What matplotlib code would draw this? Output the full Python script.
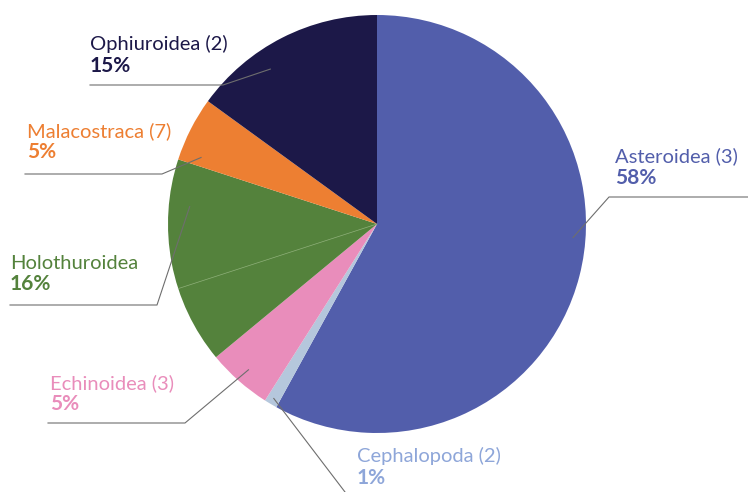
import numpy as np
import matplotlib.pyplot as plt

# class shares (percent), clockwise from 12 o'clock
groups = ["Asteroidea", "Cephalopoda", "Echinoidea", "Holothuroidea", "Malacostraca", "Ophiuroidea"]
counts = ["(3)", "(2)", "(3)", "", "(7)", "(2)"]
shares = [58, 1, 5, 16, 5, 15]
holo_split = 6  # the Holothuroidea wedge is drawn in two parts: 6 + 10

colors = ["#525eab", "#b5c7dc", "#e98dbb", "#54823c", "#ed7f32", "#1c1848"]
text_colors = ["#525eab", "#8ea6d9", "#e98dbb", "#54823c", "#ed7f32", "#1c1848"]

W, H = 748, 492
cx, cy, R = 377, H - 224, 209

fig = plt.figure(figsize=(W / 100, H / 100), dpi=100)
ax = fig.add_axes([0, 0, 1, 1])

wedges, _ = ax.pie(shares, colors=colors, startangle=90, counterclock=False,
                   center=(cx, cy), radius=R, wedgeprops=dict(linewidth=0))
ax.set_xlim(0, W)
ax.set_ylim(0, H)
ax.axis("off")


def polar(pct, r):
    # point at a clockwise percentage position from 12 o'clock
    a = np.deg2rad(90 - 3.6 * pct)
    return cx + r * np.cos(a), cy + r * np.sin(a)


# faint seam inside the Holothuroidea wedge
sx, sy = polar(sum(shares[:3]) + holo_split, R)
ax.plot([cx, sx], [cy, sy], color="#8fb07a", lw=0.5, zorder=3)

# label layout: text x, name baseline (px from top), leader elbow, leader end x,
# where along the wedge the leader starts and how deep inside it
layout = {
    "Asteroidea":    dict(tx=615, by=162, elbow=(609, 197), end=748, pos=0.45, reach=0.94),
    "Cephalopoda":   dict(tx=357, by=462, elbow=(345, 492), end=345, pos=0.5, reach=0.97),
    "Echinoidea":    dict(tx=50, by=389, elbow=(185, 423), end=48, pos=0.5, reach=0.93),
    "Holothuroidea": dict(tx=10, by=269, elbow=(157, 305), end=10, pos=0.78, reach=0.9),
    "Malacostraca":  dict(tx=27, by=137, elbow=(162, 174), end=25, pos=0.15, reach=0.9),
    "Ophiuroidea":   dict(tx=90, by=50, elbow=(223, 85), end=90, pos=0.36, reach=0.9),
}

cum = 0
for g, n, s, tc in zip(groups, counts, shares, text_colors):
    L = layout[g]
    px, py = polar(cum + L["pos"] * s, L["reach"] * R)
    cum += s
    ex, ey = L["elbow"]
    ax.plot([px, ex, L["end"]], [py, H - ey, H - ey], color="#6e6e6e", lw=0.8, zorder=4)

    name = f"{g} {n}".strip()
    ax.text(L["tx"], H - L["by"], name, color=tc, fontsize=14.5, family="Lato",
            fontweight="normal", va="baseline", ha="left")
    ax.text(L["tx"], H - L["by"] - 21.5, f"{s}%", color=tc, fontsize=15, family="Lato",
            fontweight="bold", va="baseline", ha="left")

fig.savefig("out.png", dpi=100)
